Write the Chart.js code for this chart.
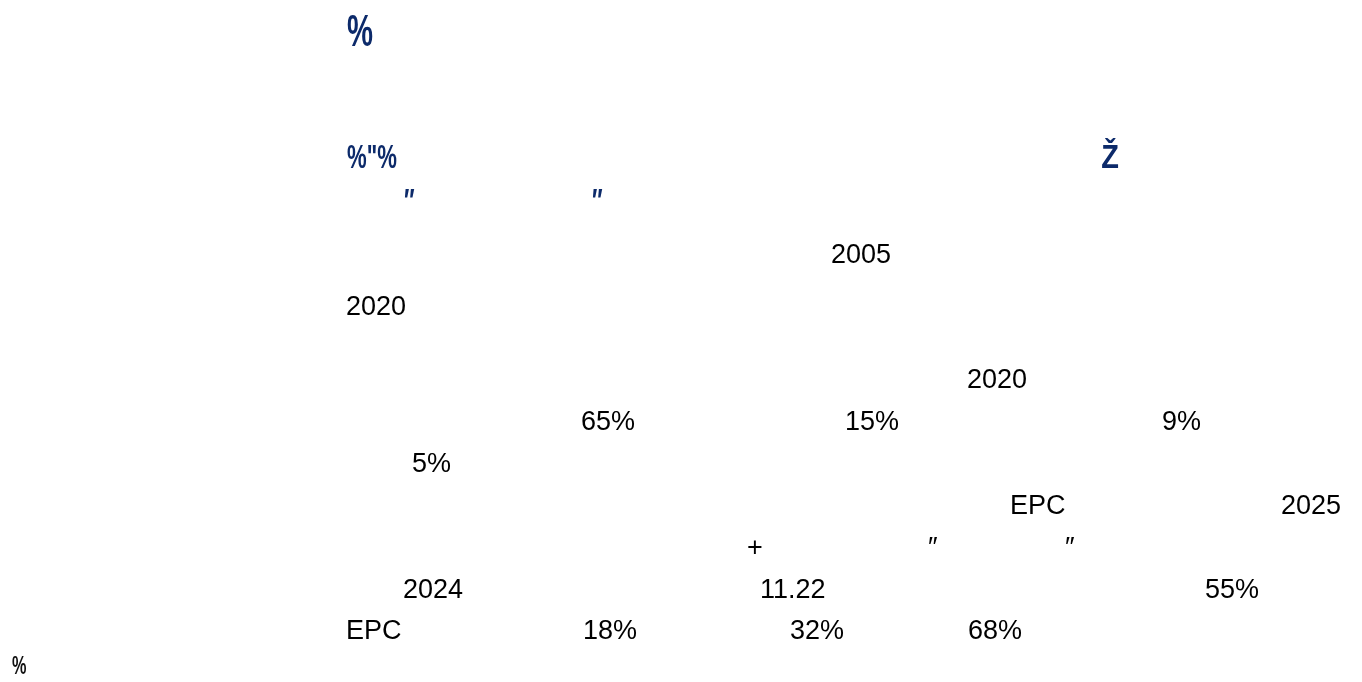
<!DOCTYPE html>
<html>
<head>
<meta charset="utf-8">
<script src="https://cdn.jsdelivr.net/npm/chart.js@4.4.0/dist/chart.umd.min.js"></script>
<style>
  html, body { margin: 0; padding: 0; background: #ffffff; }
  #wrap { position: relative; width: 1362px; height: 682px; }
</style>
</head>
<body>
<div id="wrap"><canvas id="page"></canvas></div>
<script>
/* texto visible del documento (los glifos CJK no se dibujan en la referencia) */
const titleRuns   = ['%'];
const headingRuns = ['%"%'];
const headingTail = ['Ž'];
const quoteRuns   = ['″', '″'];
const bodyLines = [
  ['2005'],
  ['2020'],
  ['2020'],
  ['65%', '15%', '9%'],
  ['5%'],
  ['EPC', '2025'],
  ['+', '″', '″'],
  ['2024', '11.22', '55%'],
  ['EPC', '18%', '32%', '68%'],
];
const footerRuns = ['%'];

/* maquetación: x de cada tramo y línea base de cada línea */
const bodyX = [
  [831],
  [346],
  [967],
  [581, 845, 1162],
  [412],
  [1010, 1281],
  [747, 928, 1065],
  [403, 760, 1205],
  [346, 583, 790, 968],
];
const bodyBase = [263, 315, 388, 430, 472, 514, 556, 598, 639];

const NAVY = '#0c2a6a';
const HEAD_FONT = '"Liberation Sans", Arial, sans-serif';
const BODY_FONT = '"Liberation Sans", Arial, sans-serif';
const NARROW = 0.65; // la fuente de títulos es condensada

function narrowText(ctx, t, x, y, align, sx) {
  ctx.save();
  ctx.translate(x, y);
  ctx.scale(sx || NARROW, 1);
  ctx.textAlign = align || 'left';
  ctx.fillText(t, 0, 0);
  ctx.restore();
}

const docText = {
  id: 'docText',
  afterDraw(chart) {
    const { ctx } = chart;
    ctx.save();
    ctx.textBaseline = 'alphabetic';
    ctx.textAlign = 'left';

    ctx.fillStyle = NAVY;
    ctx.font = 'bold 45px ' + HEAD_FONT;
    titleRuns.forEach((t) => narrowText(ctx, t, 347, 46));

    ctx.font = 'bold 34px ' + HEAD_FONT;
    headingRuns.forEach((t) => narrowText(ctx, t, 347, 168));
    headingTail.forEach((t) => narrowText(ctx, t, 1119, 168, 'right', 0.85));
    narrowText(ctx, quoteRuns[0], 404, 212);
    narrowText(ctx, quoteRuns[1], 592, 212);

    ctx.fillStyle = '#000000';
    ctx.font = '27px ' + BODY_FONT;
    bodyLines.forEach((line, li) => {
      line.forEach((t, i) => ctx.fillText(t, bodyX[li][i], bodyBase[li]));
    });

    ctx.fillStyle = '#111111';
    ctx.font = 'bold 25px ' + HEAD_FONT;
    footerRuns.forEach((t) => narrowText(ctx, t, 12, 674));
    ctx.restore();
  },
};

new Chart(document.getElementById('page'), {
  type: 'scatter',
  data: { datasets: [] },
  options: {
    responsive: true, maintainAspectRatio: false, animation: false,
    plugins: { legend: { display: false }, tooltip: { enabled: false } },
    scales: { x: { display: false }, y: { display: false } },
  },
  plugins: [docText],
});
</script>
</body>
</html>
